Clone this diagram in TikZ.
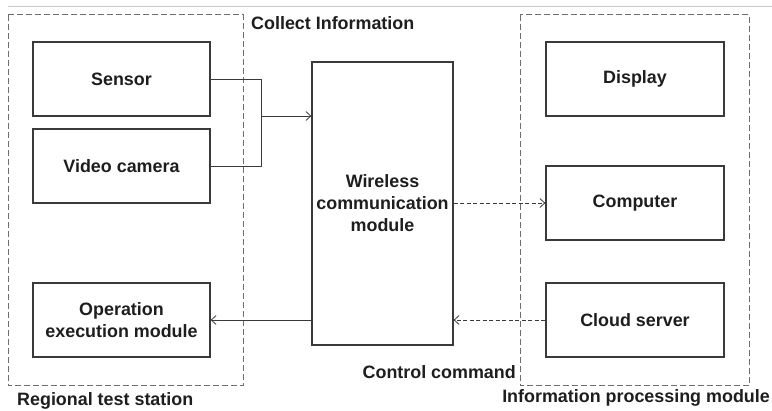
\documentclass[tikz,border=0pt]{standalone}
\usepackage{fontspec}
\setmainfont{Liberation Sans}
\usetikzlibrary{arrows.meta}
\definecolor{linec}{HTML}{3A3A3A}
\definecolor{dashc}{HTML}{6E6E6E}
\definecolor{txtc}{HTML}{1E1E1E}
\tikzset{
  box/.style={draw=linec, line width=1.2pt, rectangle, inner sep=0pt, align=center,
    text=txtc, font=\fontsize{17.9}{22}\selectfont\bfseries},
  group/.style={draw=dashc, line width=1pt, dash pattern=on 6pt off 3pt},
  lbl/.style={text=txtc, font=\fontsize{17.9}{22}\selectfont\bfseries, inner sep=0pt},
  conn/.style={draw=linec, line width=0.9pt},
  tip/.style={-{Straight Barb[length=5pt,width=9pt,line width=0.8pt]}},
  dconn/.style={conn, dash pattern=on 4pt off 2.5pt},
}
\begin{document}
\begin{tikzpicture}[x=1pt,y=-1pt]
\fill[white] (0,0) rectangle (772,411);
\useasboundingbox (0,0) rectangle (772,411);
% faint top rule
\draw[black!22, line width=0.8pt] (8,6) -- (772,6);
% group frames
\draw[group] (8,15) rectangle (243,386);
\draw[group] (520,15) rectangle (749,386);
% boxes
\node[box, minimum width=177pt, minimum height=74pt] (sensor) at (121.5,79) {Sensor};
\node[box, minimum width=177pt, minimum height=74pt] (video) at (121.5,166) {Video camera};
\node[box, minimum width=177pt, minimum height=74pt] (oper) at (121.5,320) {Operation\\execution module};
\node[box, minimum width=141pt, minimum height=283pt] (wireless) at (382.5,203.5) {Wireless\\communication\\module};
\node[box, minimum width=178pt, minimum height=74pt] (display) at (635,79) {Display};
\node[box, minimum width=178pt, minimum height=74pt] (computer) at (635,203) {Computer};
\node[box, minimum width=178pt, minimum height=74pt] (cloud) at (635,320) {Cloud server};
% labels
\node[lbl, anchor=west] (lcollect) at (251,23) {Collect Information};
\node[lbl, anchor=east] (lcontrol) at (516,372) {Control command};
\node[lbl, anchor=west] (lregion) at (17,401) {Regional test station};
\node[lbl, anchor=east] (linfo) at (770,398) {Information processing module};
% connectors
\coordinate (join) at (261,116);
\draw[conn] (sensor.east) -| (join);
\draw[conn] (video.east) -| (join);
\draw[conn, tip] (join) -- (join -| wireless.west);
\draw[dconn, tip] (wireless.east |- computer.west) -- (computer.west);
\draw[dconn, tip] (cloud.west) -- (cloud.west -| wireless.east);
\draw[conn, tip] (oper.east -| wireless.west) -- (oper.east);
\end{tikzpicture}
\end{document}
